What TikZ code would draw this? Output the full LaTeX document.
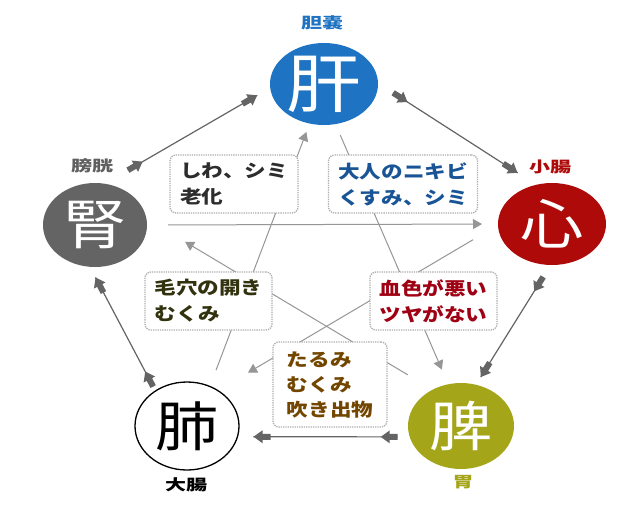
\documentclass[tikz,border=0pt]{standalone}
\usepackage{fontspec}
\usepackage{graphicx}
\setmainfont{Noto Sans CJK JP}
\newfontfamily\boxf[FakeStretch=1.2]{Noto Sans CJK JP}
\newfontfamily\bigf[FakeStretch=1.17]{Noto Sans CJK JP}
\newfontfamily\labf[FakeStretch=1.4]{Noto Sans CJK JP}
\usetikzlibrary{shapes.geometric, arrows.meta, calc, decorations.markings}
\definecolor{kanc}{RGB}{30,115,195}
\definecolor{jinc}{RGB}{100,100,100}
\definecolor{shinc}{RGB}{175,10,10}
\definecolor{hic}{RGB}{165,165,25}
\definecolor{outc}{RGB}{100,100,100}
\definecolor{starc}{RGB}{150,150,150}
\definecolor{boxc}{RGB}{175,175,175}
\definecolor{tone}{RGB}{45,45,45}
\definecolor{ttwo}{RGB}{25,85,150}
\definecolor{tthree}{RGB}{50,50,15}
\definecolor{tfour}{RGB}{160,0,20}
\definecolor{tfive}{RGB}{115,70,0}
\definecolor{labgray}{RGB}{95,95,95}
\tikzset{
  organ/.style={ellipse, inner sep=0pt, outer sep=0pt},
  bigtxt/.style={font=\bigf\fontsize{54}{54}\selectfont, inner sep=0pt},
  lab/.style={font=\labf\bfseries\fontsize{15}{15}\selectfont, inner sep=0pt},
  note/.style={rectangle, rounded corners=6pt, draw=boxc, densely dotted, line width=1.3pt,
    fill=white, align=left, font=\boxf\bfseries\fontsize{18}{26}\selectfont, inner sep=0pt},
  star/.style={draw=starc, line width=1pt, -{Triangle[width=10pt,length=9pt]}, fill=none},
  outer/.style={draw=outc, line width=1.2pt, postaction={decorate},
    decoration={markings,
      mark=at position 0 with {\fill[outc] (0,-3pt) rectangle (9pt,3pt);
                              \fill[outc] (8pt,-6.5pt) -- (17pt,0pt) -- (8pt,6.5pt) -- cycle;},
      mark=at position 0.999 with {\fill[outc] (-17pt,-3pt) rectangle (-8pt,3pt);
                              \fill[outc] (-9pt,-6.5pt) -- (0pt,0pt) -- (-9pt,6.5pt) -- cycle;}}}
}
\begin{document}
\begin{tikzpicture}[x=1pt, y=-1pt]
\path[use as bounding box, fill=white] (0,0) rectangle (640,512);

% organs
\node[organ, fill=kanc, minimum width=108pt, minimum height=82pt] (kan) at (324,84) {};
\node[organ, fill=jinc, minimum width=104pt, minimum height=84pt] (jin) at (95,225) {};
\node[organ, fill=shinc, minimum width=108pt, minimum height=82pt] (shin) at (552,224) {};
\node[organ, fill=white, draw=black, line width=1.3pt, minimum width=104pt, minimum height=88pt] (hai) at (187,426) {};
\node[organ, fill=hic, minimum width=106pt, minimum height=86pt] (hi) at (461,426) {};

\node[bigtxt, text=white, font=\bigf\fontsize{64}{64}\selectfont] (kant) at (kan) {肝};
\node[bigtxt, text=white] (jint) at (jin) {腎};
\node[bigtxt, text=white] (shint) at (shin) {心};
\node[bigtxt, text=black] (hait) at (hai) {肺};
\node[bigtxt, text=white] (hit) at (hi) {脾};

% labels
\node[lab, text=kanc] (lkan) at (322,23) {胆嚢};
\node[lab, text=labgray] (ljin) at (92,166) {膀胱};
\node[lab, text=shinc] (lshin) at (550,167) {小腸};
\node[lab, text=black] (lhai) at (186,485) {大腸};
\node[lab, text=hic] (lhi) at (463,482) {胃};

% outer cycle
\draw[outer] ($(jin.77)!27pt!(kan.184)$) -- ($(kan.184)!15pt!(jin.77)$);
\draw[outer] ($(kan.1)!18pt!(shin.112)$) -- ($(shin.112)!22pt!(kan.1)$);
\draw[outer] ($(shin.268)!14pt!(hi.70)$) -- ($(hi.70)!9pt!(shin.268)$);
\draw[outer] ($(hi.192)!12pt!(hai.348)$) -- ($(hai.348)!16pt!(hi.192)$);
\draw[outer] ($(hai.132)!5pt!(jin.263)$) -- ($(jin.263)!12pt!(hai.132)$);

% inner star
\draw[star] ($(jin.0)!21pt!(shin.180)$) -- ($(shin.180)!16pt!(jin.0)$);
\draw[star] ($(shin.181)!29pt!(hai.49)$) -- ($(hai.49)!35pt!(shin.181)$);
\draw[star] ($(hai.60)!17.5pt!(kan.250)$) -- ($(kan.250)!9pt!(hai.60)$);
\draw[star] ($(kan.286)!12pt!(hi.107)$) -- ($(hi.107)!16pt!(kan.286)$);
\draw[star] ($(hi.128)!29pt!(jin.7)$) -- ($(jin.7)!45pt!(hi.128)$);

% notes
\node[note, text=tone, minimum width=128pt, minimum height=58pt] (n1) at (234,184) {しわ、シミ\\老化};
\node[note, text=ttwo, minimum width=149pt, minimum height=58pt] (n2) at (403,184) {大人のニキビ\\くすみ、シミ};
\node[note, text=tthree, minimum width=127pt, minimum height=58pt] (n3) at (208.5,301) {毛穴の開き\\むくみ};
\node[note, text=tfour, minimum width=127pt, minimum height=58pt] (n4) at (433.5,301) {血色が悪い\\ツヤがない};
\node[note, text=tfive, minimum width=114pt, minimum height=85pt, font=\boxf\bfseries\fontsize{18}{25}\selectfont] (n5) at (330,384.5) {たるみ\\むくみ\\吹き出物};
\end{tikzpicture}
\end{document}
